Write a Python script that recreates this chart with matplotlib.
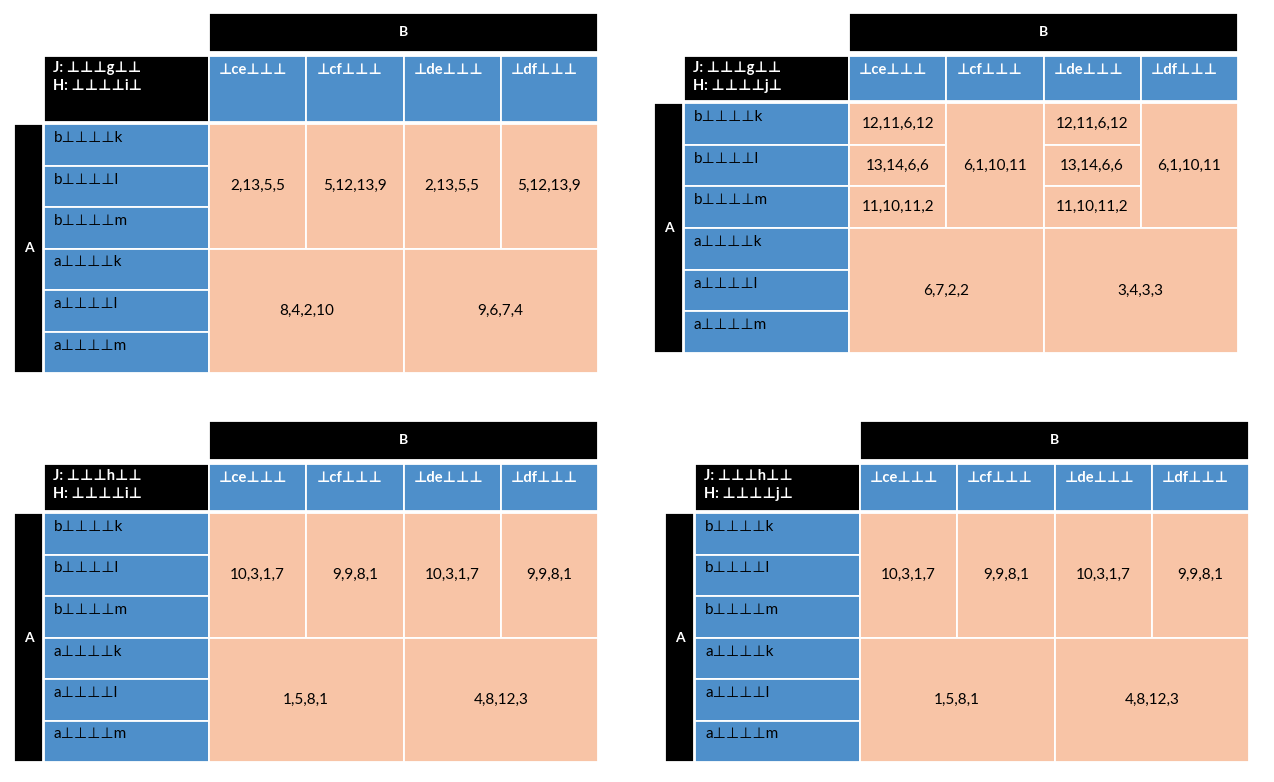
import matplotlib.pyplot as plt
from matplotlib.patches import Rectangle

plt.rcParams['font.family'] = ['Lato', 'DejaVu Sans']

# labels shared by the four tables
col_labels = ["⊥ce⊥⊥⊥", "⊥cf⊥⊥⊥", "⊥de⊥⊥⊥", "⊥df⊥⊥⊥"]
row_labels = ["b⊥⊥⊥⊥k", "b⊥⊥⊥⊥l", "b⊥⊥⊥⊥m", "a⊥⊥⊥⊥k", "a⊥⊥⊥⊥l", "a⊥⊥⊥⊥m"]
j_labels = ["⊥⊥⊥g⊥⊥", "⊥⊥⊥g⊥⊥", "⊥⊥⊥h⊥⊥", "⊥⊥⊥h⊥⊥"]
h_labels = ["⊥⊥⊥⊥i⊥", "⊥⊥⊥⊥j⊥", "⊥⊥⊥⊥i⊥", "⊥⊥⊥⊥j⊥"]

# cell values, in the order of the merge layouts below
vals_1 = ["2,13,5,5", "5,12,13,9", "2,13,5,5", "5,12,13,9", "8,4,2,10", "9,6,7,4"]
vals_2 = ["12,11,6,12", "13,14,6,6", "11,10,11,2", "6,1,10,11",
          "12,11,6,12", "13,14,6,6", "11,10,11,2", "6,1,10,11",
          "6,7,2,2", "3,4,3,3"]
vals_3 = ["10,3,1,7", "9,9,8,1", "10,3,1,7", "9,9,8,1", "1,5,8,1", "4,8,12,3"]
vals_4 = ["10,3,1,7", "9,9,8,1", "10,3,1,7", "9,9,8,1", "1,5,8,1", "4,8,12,3"]

# merged cells: (first row, n rows, first col, n cols)
merge_a = [(0, 3, 0, 1), (0, 3, 1, 1), (0, 3, 2, 1), (0, 3, 3, 1),
           (3, 3, 0, 2), (3, 3, 2, 2)]
merge_b = [(0, 1, 0, 1), (1, 1, 0, 1), (2, 1, 0, 1), (0, 3, 1, 1),
           (0, 1, 2, 1), (1, 1, 2, 1), (2, 1, 2, 1), (0, 3, 3, 1),
           (3, 3, 0, 2), (3, 3, 2, 2)]

# where each table sits (pixels): left, top, header row height, body height
tables = [
    (14, 13, 66, 249, vals_1, merge_a),
    (654, 13, 45, 250, vals_2, merge_b),
    (14, 421, 47, 249, vals_3, merge_a),
    (665, 421, 47, 249, vals_4, merge_a),
]

BLUE = "#4E8FCA"
SALMON = "#F8C4A6"
W_A, W_LAB, W_COL = 29, 165, 97.25
H_B = 39
FS = 11

fig = plt.figure(figsize=(12.74, 7.82), dpi=100)
ax = fig.add_axes([0, 0, 1, 1])
ax.set_xlim(0, 1274)
ax.set_ylim(782, 0)
ax.axis("off")


def cell(x, y, w, h, color, edge="white"):
    ax.add_patch(Rectangle((x, y), w, h, facecolor=color, edgecolor=edge, lw=1.3))


for k, (x0, y0, hdr, body, vals, merge) in enumerate(tables):
    xl = x0 + W_A + 1          # label column
    xd = xl + W_LAB            # data columns
    yh = y0 + H_B + 4          # header row
    yb = yh + hdr + 2          # body
    rh = body / len(row_labels)

    # B header
    cell(xd, y0, W_COL * 4, H_B, "black")
    ax.text(xd + W_COL * 2, y0 + H_B / 2, "B", color="white", fontsize=FS - 1,
            fontweight="bold", ha="center", va="center")

    # corner
    cell(xl, yh, W_LAB, hdr, "black")
    ax.text(xl + 9, yh + 5, f"J: {j_labels[k]}\nH: {h_labels[k]}", color="white",
            fontsize=FS - 0.5, fontweight="bold", ha="left", va="top", linespacing=1.35)

    # column headers
    for i, lab in enumerate(col_labels):
        cell(xd + i * W_COL, yh, W_COL, hdr, BLUE)
        ax.text(xd + i * W_COL + 10, yh + 7, lab, color="white", fontsize=FS - 0.5,
                fontweight="bold", ha="left", va="top")

    # A column
    cell(x0, yb, W_A, body, "black")
    ax.text(x0 + W_A / 2, yb + body / 2, "A", color="white", fontsize=FS - 1,
            fontweight="bold", ha="center", va="center")

    # row labels
    for r, lab in enumerate(row_labels):
        cell(xl, yb + r * rh, W_LAB, rh, BLUE)
        ax.text(xl + 10, yb + r * rh + 7, lab, color="black", fontsize=FS,
                ha="left", va="top")

    # values
    for (r0, nr, c0, nc), v in zip(merge, vals):
        cx, cy = xd + c0 * W_COL, yb + r0 * rh
        cell(cx, cy, nc * W_COL, nr * rh, SALMON)
        ax.text(cx + nc * W_COL / 2, cy + nr * rh / 2, v, color="black",
                fontsize=FS, ha="center", va="center")

fig.savefig("out.png", dpi=100)
